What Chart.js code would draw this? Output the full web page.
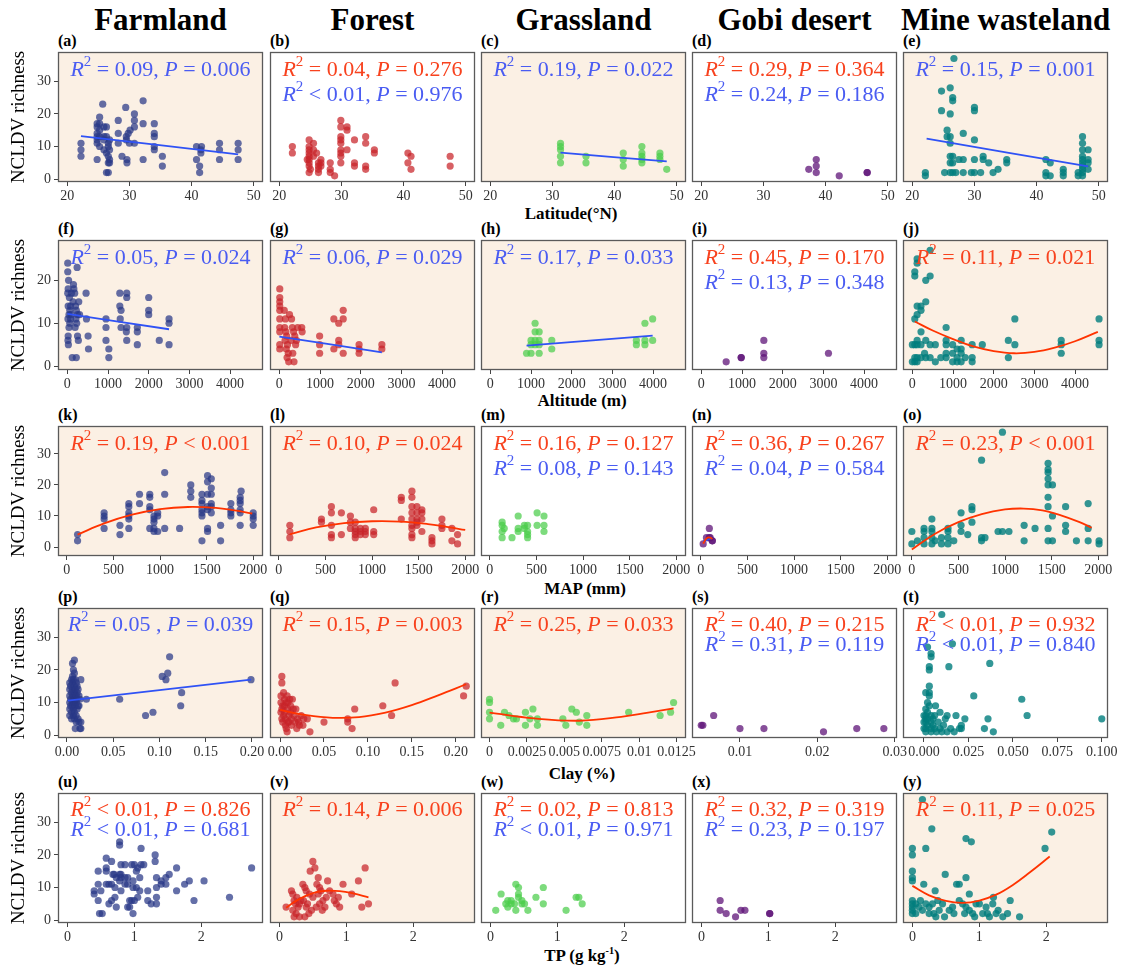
<!DOCTYPE html>
<html>
<head>
<meta charset="utf-8">
<script src="https://cdn.jsdelivr.net/npm/chart.js@4.4.0/dist/chart.umd.min.js"></script>
<style>
  body { margin: 0; background: #fff; }
  #fig { position: relative; width: 1126px; height: 971px; overflow: hidden; font-family: "Liberation Serif", "Times New Roman", serif; }
  .lbl { position: absolute; font-weight: bold; color: #000; white-space: nowrap; line-height: 1; }
  .ctr { transform: translate(-50%, -50%); }
  canvas { position: absolute; }
  sup { font-size: 60%; }
</style>
</head>
<body>
<div id="fig"></div>
<script>
// ---- data ----
const habitats = ["Farmland", "Forest", "Grassland", "Gobi desert", "Mine wasteland"];
const xTitles = ["Latitude(°N)", "Altitude (m)", "MAP (mm)", "Clay (%)", "TP (g kg<sup>-1</sup>)"];
const letters = "abcdefghijklmnopqrstuvwxy".split("");

// latitude row
const farmLat = [[22.2,11],[22.2,9],[22.2,7],[24.8,17],[24.8,16],[24.8,14],[24.8,13],[24.8,12],[24.8,11],[24.8,6],[25.2,19],[25.2,17],[25.2,15],[25.2,13],[25.2,10],[25.7,23],[25.9,16],[25.9,13],[25.9,12],[25.9,9],[26.3,16],[26.3,13],[26.3,8],[26.3,2],[26.6,11],[26.6,10],[26.6,7],[26.6,5],[26.6,2],[26.8,12],[26.8,9],[26.8,6],[26.8,5],[28.2,18],[28.2,14],[28.2,11],[28.8,7],[29.4,22],[29.5,13],[29.5,12],[29.6,6],[29.6,5],[29.8,14],[30.0,11],[30.1,15],[30.8,20],[30.8,18],[30.8,16],[30.8,11],[32.2,24],[32.2,17],[32.2,6],[34.0,17],[34.0,14],[34.0,13],[34.0,10],[34.0,9],[35.3,7],[35.3,4],[40.8,10],[40.8,6],[41.3,4],[41.3,2],[41.5,9],[41.5,8],[41.6,10],[44.5,11],[44.5,9],[44.5,6],[47.5,11],[47.5,9],[47.5,6]];
const forestLat = [[22.1,10],[22.1,8],[24.8,12],[24.8,10],[24.8,9],[24.8,8],[24.8,7],[24.8,6],[24.8,5],[24.8,4],[24.8,2],[25.5,11],[25.5,9],[25.5,7],[26.3,5],[26.3,4],[26.3,3],[26.3,2],[26.7,6],[26.7,5],[26.7,4],[28.2,5],[28.2,3],[28.2,2],[28.9,1],[29.9,18],[29.9,16],[29.9,13],[29.9,12],[29.9,11],[29.9,9],[29.9,8],[29.9,7],[29.9,5],[30.9,16],[30.9,15],[30.9,9],[32.1,12],[32.1,5],[32.1,4],[33.9,13],[33.9,11],[33.9,4],[33.9,3],[35.3,9],[35.3,8],[40.7,8],[40.7,5],[41.2,7],[41.2,3],[47.5,7],[47.5,4],[25.0,3],[26.0,8],[24.5,6]];
const grassLat = [[31.3,11],[31.3,10],[31.3,9],[31.3,7],[31.3,5],[35.4,7],[35.4,5],[41.4,8],[41.4,6],[41.4,4],[44.4,10],[44.4,8],[44.4,7],[44.4,6],[44.4,5],[47.3,8],[47.3,7],[47.3,6],[48.4,3]];
const gobiLat = [[37.3,3],[38.5,6],[38.5,4],[38.5,2],[42.2,1],[46.7,2],[46.7,2]];
const mineLat = [[22.1,2],[22.1,1],[24.7,27],[24.7,21],[26.1,28],[26.1,20],[26.5,25],[26.5,24],[26.7,37],[25.6,15],[25.6,13],[26.1,13],[26.1,11],[26.5,7],[26.5,5],[26.5,2],[26.1,5],[26.1,2],[26.1,7],[28.2,14],[28.2,6],[28.2,2],[30,22],[30,21],[30,12],[30,6],[30,2],[31.4,7],[31.4,6],[32.3,5],[33.8,3],[35.2,6],[35.2,5],[41.5,6],[41.5,2],[41.5,1],[42.2,5],[42.2,1],[44.3,3],[44.3,2],[44.3,1],[46.7,2],[46.7,1],[47.4,13],[47.4,11],[47.4,9],[47.4,7],[47.4,6],[47.4,5],[47.4,4],[47.4,3],[47.4,2],[47.4,1],[48.3,9],[48.3,6],[48.3,5],[48.3,3],[25.2,2],[27,2],[29.5,2],[31,2],[27.5,6],[33,2]];

// altitude row
const farmAlt = [[10,24],[10,22],[30,20],[20,18],[10,17],[50,16],[20,14],[60,13],[40,12],[15,11],[40,9],[20,7],[15,6],[25,5],[80,14],[90,12],[80,11],[60,10],[100,17],[150,19],[160,18],[180,17],[140,15],[200,14],[220,13],[250,12],[210,11],[230,10],[190,9],[250,7],[270,6],[120,2],[220,2],[240,23],[300,12],[280,15],[460,17],[470,11],[510,7],[520,4],[950,11],[950,9],[950,6],[1020,4],[1020,2],[1290,17],[1290,14],[1320,13],[1300,11],[1320,9],[1460,17],[1460,16],[1460,9],[1450,8],[1460,6],[1720,9],[1720,8],[1720,5],[2000,16],[2000,13],[2000,12],[2260,6],[2500,11],[2500,10],[2500,5]];
const forestAlt = [[10,18],[10,16],[10,15],[10,14],[10,13],[10,11],[10,9],[10,8],[10,5],[10,4],[120,13],[150,11],[130,9],[160,8],[180,7],[140,6],[200,5],[170,4],[220,3],[190,2],[230,1],[250,12],[300,11],[320,9],[350,8],[380,7],[290,6],[400,5],[330,3],[360,1],[450,9],[420,6],[550,9],[560,8],[990,7],[990,5],[990,3],[1340,11],[1340,4],[1460,10],[1460,6],[1460,5],[1570,13],[1570,11],[1570,3],[1960,5],[1960,4],[1960,3],[2520,5],[2520,4]];
const grassAlt = [[890,3],[1000,6],[1000,5],[1000,3],[1100,10],[1100,8],[1100,6],[1100,5],[1200,8],[1200,6],[1200,5],[1200,3],[1510,6],[1510,4],[3590,6],[3590,5],[3800,10],[3800,6],[3800,5],[3990,11],[3990,6]];
const gobiAlt = [[610,1],[980,2],[980,2],[1536,6],[1536,3],[1536,2],[3125,3]];
const mineAlt = [[60,22],[60,21],[60,11],[60,5],[60,2],[60,1],[117,25],[117,24],[117,14],[117,12],[117,6],[117,5],[117,2],[117,1],[213,14],[213,13],[213,8],[213,5],[213,2],[330,20],[330,15],[330,6],[330,2],[437,27],[437,21],[437,5],[437,2],[565,5],[565,1],[830,9],[830,6],[830,5],[830,3],[830,2],[990,5],[990,3],[990,1],[1100,4],[1100,2],[1100,1],[1200,6],[1200,4],[1200,3],[1200,1],[1470,5],[1470,2],[1470,1],[1720,5],[2360,6],[2360,2],[2520,11],[2520,5],[3660,6],[3660,5],[3660,3],[4590,11],[4590,6],[4590,5],[0,5],[0,1],[300,3],[700,2],[1300,2]];

// MAP row
const farmMap = [[115,4],[115,2],[400,11],[400,10],[400,9],[400,6],[570,7],[570,4],[665,14],[665,13],[665,11],[665,10],[665,9],[665,6],[780,17],[780,14],[890,17],[890,16],[890,13],[890,12],[890,6],[935,10],[935,9],[935,8],[935,6],[935,5],[975,11],[975,10],[975,5],[1050,24],[1050,17],[1050,6],[1210,6],[1330,20],[1330,18],[1330,16],[1450,17],[1450,15],[1450,14],[1450,12],[1450,11],[1450,10],[1450,2],[1510,23],[1510,21],[1510,17],[1510,13],[1510,12],[1510,6],[1510,5],[1550,22],[1550,19],[1550,17],[1550,14],[1550,13],[1550,11],[1650,7],[1650,2],[1760,14],[1760,12],[1760,11],[1760,10],[1860,16],[1860,15],[1860,14],[1860,12],[1860,11],[1860,7],[1870,18],[2000,11],[2000,10],[2000,9],[2000,7]];
const forestMap = [[118,7],[118,5],[118,3],[457,9],[457,8],[564,13],[564,11],[564,7],[564,4],[564,3],[671,11],[671,4],[768,10],[768,8],[768,6],[820,8],[820,6],[820,5],[820,4],[820,3],[875,6],[875,5],[875,4],[928,6],[928,5],[928,4],[1018,12],[1018,5],[1018,4],[1314,16],[1314,15],[1314,9],[1428,18],[1428,16],[1428,13],[1428,11],[1428,9],[1428,7],[1428,6],[1428,4],[1428,3],[1482,13],[1482,11],[1482,9],[1482,8],[1482,7],[1535,12],[1535,11],[1535,9],[1535,5],[1643,3],[1643,2],[1643,1],[1750,9],[1750,7],[1750,6],[1857,6],[1857,2],[1918,4],[1918,1]];
const grassMap = [[132,8],[132,7],[132,5],[132,3],[154,6],[238,3],[304,10],[304,6],[304,5],[370,7],[370,6],[405,7],[405,5],[405,4],[405,3],[507,11],[507,7],[581,10],[581,7],[581,5]];
const gobiMap = [[25,1],[60,3],[91,6],[91,3],[123,2],[123,2],[100,3]];
const mineMap = [[0,5],[0,1],[131,6],[131,5],[131,3],[131,1],[215,9],[215,6],[215,5],[215,3],[215,1],[318,3],[318,1],[388,6],[388,5],[388,3],[388,1],[528,11],[528,7],[528,5],[645,13],[645,12],[645,8],[748,28],[748,3],[748,2],[785,3],[925,5],[972,37],[972,5],[1042,5],[1205,7],[1205,2],[1322,6],[1462,27],[1462,25],[1462,24],[1462,22],[1462,20],[1462,16],[1462,13],[1462,6],[1462,2],[1509,20],[1509,10],[1509,2],[1650,13],[1650,7],[1650,5],[1766,2],[1892,14],[1892,6],[1892,2],[2009,2],[2009,1],[60,2],[250,2],[450,2],[600,4]];

// clay row
const farmClay = [[0.003,16],[0.003,14],[0.003,12],[0.003,10],[0.003,8],[0.003,6],[0.004,15],[0.004,11],[0.004,9],[0.005,13],[0.005,17],[0.005,7],[0.005,5],[0.006,22],[0.006,18],[0.006,16],[0.006,14],[0.006,12],[0.006,10],[0.006,9],[0.007,20],[0.007,17],[0.007,11],[0.007,8],[0.007,6],[0.008,23],[0.008,19],[0.008,15],[0.008,13],[0.008,12],[0.008,10],[0.008,7],[0.008,5],[0.009,17],[0.009,14],[0.009,11],[0.009,9],[0.009,2],[0.010,16],[0.010,12],[0.010,10],[0.010,6],[0.010,4],[0.011,15],[0.011,13],[0.011,11],[0.011,8],[0.012,14],[0.012,9],[0.012,5],[0.013,12],[0.013,9],[0.013,4],[0.014,11],[0.014,2],[0.015,17],[0.015,4],[0.015,2],[0.021,11],[0.057,11],[0.085,6],[0.093,7],[0.103,18],[0.107,17],[0.109,19],[0.111,24],[0.124,13],[0.123,9],[0.199,17]];
const forestClay = [[0.002,18],[0.002,16],[0.001,12],[0.001,10],[0.002,8],[0.001,7],[0.002,5],[0.003,4],[0.004,13],[0.005,11],[0.005,9],[0.005,7],[0.006,5],[0.006,3],[0.007,2],[0.008,1],[0.008,12],[0.009,10],[0.009,8],[0.010,6],[0.010,4],[0.011,11],[0.012,9],[0.012,7],[0.013,5],[0.013,3],[0.014,11],[0.015,8],[0.016,6],[0.017,4],[0.018,8],[0.019,2],[0.020,5],[0.021,4],[0.022,3],[0.024,6],[0.026,3],[0.027,5],[0.003,9],[0.004,6],[0.007,10],[0.009,4],[0.031,5],[0.034,1],[0.050,4],[0.077,5],[0.077,4],[0.082,2],[0.085,8],[0.117,9],[0.127,6],[0.131,16],[0.209,12],[0.212,15]];
const grassClay = [[0,11],[0,10],[0,7],[0,5],[0.00075,3],[0.001,7],[0.0013,6],[0.0016,5],[0.0018,5],[0.0024,7],[0.0024,3],[0.0027,5],[0.0029,8],[0.0032,5],[0.0032,3],[0.0049,5],[0.0051,3],[0.0055,8],[0.0058,7],[0.006,4],[0.0065,6],[0.0065,3],[0.0093,7],[0.0114,6],[0.0121,7],[0.0123,10]];
const gobiClay = [[0.0050,3],[0.0052,3],[0.0066,6],[0.0100,2],[0.0131,2],[0.0208,1],[0.0251,2],[0.0286,2]];
const mineClay = [[0.010,37],[0.002,27],[0.004,25],[0.004,24],[0.016,28],[0.003,21],[0.003,20],[0.014,21],[0.037,22],[0.028,12],[0.055,11],[0.058,6],[0.100,5],[0.036,5],[0.034,2],[0.039,1],[0.021,3],[0.021,2],[0.023,5],[0.0065,9],[0.009,7],[0.013,6],[0.013,1],[0.003,15],[0.003,13],[0.003,12],[0.001,13],[0.001,8],[0.001,6],[0.001,5],[0.001,4],[0.001,2],[0.001,1],[0.002,10],[0.002,7],[0.002,3],[0.004,6],[0.004,4],[0.004,2],[0.004,1],[0.005,5],[0.005,3],[0.006,2],[0.007,1],[0.008,4],[0.009,2],[0.010,1],[0.011,3],[0.012,5],[0.015,2],[0.017,1],[0.0,2],[0.0,4],[0.0,6],[0.002,5],[0.006,6],[0.003,9],[0.018,6],[0.02,2]];

// TP row
const farmTP = [[0.4,9],[0.4,8],[0.46,15],[0.46,11],[0.46,6],[0.48,2],[0.5,9],[0.52,2],[0.58,19],[0.58,16],[0.58,15],[0.58,11],[0.62,11],[0.62,5],[0.66,18],[0.66,11],[0.66,6],[0.68,14],[0.7,14],[0.71,10],[0.71,7],[0.73,13],[0.73,4],[0.78,24],[0.78,23],[0.78,14],[0.8,14],[0.78,12],[0.8,17],[0.8,13],[0.8,9],[0.86,17],[0.86,13],[0.86,11],[0.9,13],[0.9,11],[0.9,4],[0.93,6],[0.93,4],[0.96,17],[0.96,6],[0.98,12],[0.98,10],[0.98,2],[1.0,17],[1.0,6],[1.03,15],[1.03,10],[1.05,16],[1.05,7],[1.08,13],[1.08,9],[1.1,22],[1.1,17],[1.14,17],[1.2,9],[1.2,6],[1.25,5],[1.31,20],[1.31,18],[1.33,13],[1.33,10],[1.33,7],[1.33,5],[1.4,12],[1.4,11],[1.47,13],[1.47,11],[1.52,14],[1.63,16],[1.63,9],[1.75,11],[1.82,12],[1.89,6],[2.04,12],[2.42,7],[2.75,16]];
const forestTP = [[0.1,4],[0.18,9],[0.2,8],[0.22,6],[0.24,5],[0.2,3],[0.25,2],[0.3,1],[0.26,7],[0.28,4],[0.22,1],[0.35,11],[0.38,10],[0.4,9],[0.36,6],[0.42,5],[0.4,4],[0.44,2],[0.38,1],[0.5,18],[0.46,15],[0.53,16],[0.58,13],[0.56,11],[0.6,10],[0.62,9],[0.58,8],[0.65,6],[0.6,5],[0.68,4],[0.64,3],[0.7,7],[0.72,12],[0.75,9],[0.8,8],[0.82,6],[0.85,5],[0.9,4],[0.88,7],[0.95,11],[1.08,8],[1.18,12],[1.23,4],[1.28,16],[1.33,5],[0.5,7],[0.45,8],[0.32,6],[0.3,5],[0.55,4],[0.48,3]];
const grassTP = [[0.08,3],[0.16,8],[0.23,5],[0.26,6],[0.26,4],[0.31,6],[0.31,5],[0.36,5],[0.38,11],[0.38,3],[0.42,10],[0.42,8],[0.42,7],[0.47,6],[0.47,5],[0.51,5],[0.56,3],[0.68,7],[0.79,10],[0.79,5],[1.13,3],[1.28,7],[1.32,7],[1.37,5]];
const gobiTP = [[0.28,6],[0.28,3],[0.37,2],[0.51,1],[0.59,3],[0.65,3],[1.02,2],[1.02,2]];
const mineTP = [[0.15,37],[0.29,28],[0.8,25],[0.88,24],[2.08,27],[1.98,22],[0,22],[0,20],[0,15],[0,13],[0,12],[0.2,22],[0.17,11],[0.49,14],[0.66,11],[0.7,11],[0.8,13],[0.34,9],[0.85,8],[1.21,7],[1.46,6],[0,6],[0,5],[0,4],[0,3],[0,2],[0.05,5],[0.05,2],[0.1,4],[0.12,6],[0.15,3],[0.2,5],[0.25,2],[0.25,4],[0.3,5],[0.32,2],[0.35,1],[0.38,6],[0.4,3],[0.45,5],[0.48,1],[0.55,3],[0.6,4],[0.62,2],[0.75,5],[0.78,2],[0.8,4],[0.85,3],[0.9,2],[0.93,1],[1.0,5],[1.05,2],[1.1,4],[1.12,2],[1.15,1],[1.2,5],[1.25,2],[1.28,3],[1.35,1],[1.42,2],[1.6,1],[0.7,6],[0.95,5]];

// fitted lines (r = quadratic, b = linear)
const fitA = [["b", [[22.2,13.2],[47.5,7.6]]]];
const fitC = [["b", [[31.3,8.1],[48.4,5.4]]]];
const fitE = [["b", [[22.3,12.4],[48.3,3.9]]]];
const fitF = [["b", [[0,12.2],[2500,8.6]]]];
const fitG = [["b", [[0,6.9],[2520,3.2]]]];
const fitH = [["b", [[890,4.8],[3990,7.1]]]];
const fitJ = [["r", [[60,10.4],[500,8.3],[1000,6.3],[1500,4.6],[2000,3.5],[2500,3.0],[3000,3.3],[3500,4.3],[4000,5.8],[4560,8.0]]]];
const fitK = [["r", [[115,4],[400,7.6],[700,10.4],[1000,12.2],[1300,12.9],[1600,12.6],[1800,11.8],[1990,10.8]]]];
const fitL = [["r", [[118,4.1],[400,6.3],[700,7.7],[1000,8.3],[1300,8.2],[1600,7.4],[1800,6.5],[2000,5.5]]]];
const fitN = [["r", [[25,1.1],[50,2.4],[80,3.1],[110,2.9],[123,2.5]]], ["b", [[25,1.8],[123,2.9]]]];
const fitO = [["r", [[0,-0.8],[250,4.3],[500,8.0],[750,10.6],[1000,12.1],[1200,12.4],[1400,11.8],[1600,10.2],[1800,8.0],[1930,6.2]]]];
const fitP = [["b", [[0.001,10.6],[0.199,17]]]];
const fitQ = [["r", [[0,7.7],[0.03,6.1],[0.06,5.3],[0.09,5.5],[0.12,6.9],[0.15,9.2],[0.18,12.2],[0.212,15.6]]]];
const fitR = [["r", [[0,6.9],[0.003,5.1],[0.006,4.4],[0.0088,5.6],[0.0105,6.8],[0.0123,8.2]]]];
const fitV = [["r", [[0.1,3.8],[0.3,6.5],[0.5,8.3],[0.7,9.0],[0.9,8.9],[1.1,8.2],[1.33,7.0]]]];
const fitY = [["r", [[0,10.5],[0.25,7.6],[0.5,5.9],[0.75,5.3],[1.0,6.0],[1.25,7.8],[1.5,10.8],[1.75,14.6],[2.05,19.5]]]];

// R2 / P annotations per panel (colour, R2 part, P part)
const stats = [
  [["b","= 0.09","= 0.006"]],
  [["r","= 0.04","= 0.276"],["b","< 0.01","= 0.976"]],
  [["b","= 0.19","= 0.022"]],
  [["r","= 0.29","= 0.364"],["b","= 0.24","= 0.186"]],
  [["b","= 0.15","= 0.001"]],
  [["b","= 0.05","= 0.024"]],
  [["b","= 0.06","= 0.029"]],
  [["b","= 0.17","= 0.033"]],
  [["r","= 0.45","= 0.170"],["b","= 0.13","= 0.348"]],
  [["r","= 0.11","= 0.021"]],
  [["r","= 0.19","< 0.001"]],
  [["r","= 0.10","= 0.024"]],
  [["r","= 0.16","= 0.127"],["b","= 0.08","= 0.143"]],
  [["r","= 0.36","= 0.267"],["b","= 0.04","= 0.584"]],
  [["r","= 0.23","< 0.001"]],
  [["b","= 0.05 ","= 0.039"]],
  [["r","= 0.15","= 0.003"]],
  [["r","= 0.25","= 0.033"]],
  [["r","= 0.40","= 0.215"],["b","= 0.31","= 0.119"]],
  [["r","< 0.01","= 0.932"],["b","< 0.01","= 0.840"]],
  [["r","< 0.01","= 0.826"],["b","< 0.01","= 0.681"]],
  [["r","= 0.14","= 0.006"]],
  [["r","= 0.02","= 0.813"],["b","< 0.01","= 0.971"]],
  [["r","= 0.32","= 0.319"],["b","= 0.23","= 0.197"]],
  [["r","= 0.11","= 0.025"]]
];
const shaded = [1,0,1,0,1, 1,1,1,0,1, 1,1,0,0,1, 1,1,1,0,0, 0,1,0,0,1];

// axis ticks
const latTicks = [20, 30, 40, 50];
const altTicks = [0, 1000, 2000, 3000, 4000];
const mapTicks = [0, 500, 1000, 1500, 2000];
const clayTicksWide = [0, 0.05, 0.10, 0.15, 0.20];
const clayLabelsWide = ["0.00", "0.05", "0.10", "0.15", "0.20"];
const clayTicksGrass = [0, 0.0025, 0.005, 0.0075, 0.01, 0.0125];
const clayLabelsGrass = ["0", "0.0025", "0.005", "0.0075", "0.01", "0.0125"];
const clayTicksGobi = [0.01, 0.02, 0.03];
const clayTicksMine = [0, 0.025, 0.05, 0.075, 0.1];
const clayLabelsMine = ["0.000", "0.025", "0.050", "0.075", "0.100"];
const tpTicks = [0, 1, 2];
const yTicksTall = [0, 10, 20, 30];
const yTicksShort = [0, 10, 20];

const points = [
  farmLat, forestLat, grassLat, gobiLat, mineLat,
  farmAlt, forestAlt, grassAlt, gobiAlt, mineAlt,
  farmMap, forestMap, grassMap, gobiMap, mineMap,
  farmClay, forestClay, grassClay, gobiClay, mineClay,
  farmTP, forestTP, grassTP, gobiTP, mineTP
];
const fits = [
  fitA, [], fitC, [], fitE,
  fitF, fitG, fitH, [], fitJ,
  fitK, fitL, [], fitN, fitO,
  fitP, fitQ, fitR, [], [],
  [], fitV, [], [], fitY
];

// ---- layout & style ----
const colLeft = [58, 270, 481, 692, 903];
const rowTop = [52, 240, 426, 608, 793];
const boxW = 205, boxH = 130;
const xRange = [
  [[18.5,51.5],[18.5,51.5],[18.5,51.5],[18.5,51.5],[18.5,51.5]],
  [[-230,4810],[-230,4810],[-230,4810],[-230,4810],[-230,4810]],
  [[-95,2105],[-95,2105],[-95,2105],[-95,2105],[-95,2105]],
  [[-0.0097,0.212],[-0.0115,0.222],[-0.00057,0.01313],[0.0038,0.0303],[-0.0118,0.1035]],
  [[-0.14,2.92],[-0.14,2.92],[-0.14,2.92],[-0.14,2.92],[-0.14,2.92]]
];
const yRange = [[-0.9,39], [-0.9,29.4], [-2.9,39], [-0.9,39], [-0.9,39]];
const pointColors = ["rgba(40,55,135,0.72)", "rgba(200,35,40,0.72)", "rgba(75,205,75,0.72)", "rgba(95,20,120,0.75)", "rgba(0,125,125,0.8)"];
const lineColor = { r: "#ff3300", b: "#2f52f5" };
const textColor = { r: "#f8421e", b: "#4a5cf2" };
const serif = '"Liberation Serif", "Times New Roman", serif';

function xTicksFor(row, col) {
  if (row === 0) return [latTicks, latTicks.map(String)];
  if (row === 1) return [altTicks, altTicks.map(String)];
  if (row === 2) return [mapTicks, mapTicks.map(String)];
  if (row === 4) return [tpTicks, tpTicks.map(String)];
  if (col <= 1) return [clayTicksWide, clayLabelsWide];
  if (col === 2) return [clayTicksGrass, clayLabelsGrass];
  if (col === 3) return [clayTicksGobi, clayTicksGobi.map(String)];
  return [clayTicksMine, clayLabelsMine];
}

const fig = document.getElementById("fig");
function addLabel(html, x, y, size, center) {
  const d = document.createElement("div");
  d.className = "lbl" + (center ? " ctr" : "");
  d.style.left = x + "px";
  d.style.top = y + "px";
  d.style.fontSize = size + "px";
  d.innerHTML = html;
  fig.appendChild(d);
}

function drawStats(ctx, area, lines, offs) {
  const cx = (area.left + area.right) / 2;
  lines.forEach((ln, i) => {
    const segs = [
      { t: "R", f: "italic 22px " + serif, dy: 0 },
      { t: "2", f: "15px " + serif, dy: -8 },
      { t: " " + ln[1] + ", ", f: "22px " + serif, dy: 0 },
      { t: "P", f: "italic 22px " + serif, dy: 0 },
      { t: " " + ln[2], f: "22px " + serif, dy: 0 }
    ];
    let total = 0;
    segs.forEach(s => { ctx.font = s.f; s.w = ctx.measureText(s.t).width; total += s.w; });
    let x = cx - total / 2;
    const y = area.top + offs[i];
    ctx.fillStyle = textColor[ln[0]];
    ctx.textBaseline = "middle";
    ctx.textAlign = "left";
    segs.forEach(s => { ctx.font = s.f; ctx.fillText(s.t, x, y + s.dy); x += s.w; });
  });
}

function addPanel(k) {
  const row = Math.floor(k / 5), col = k % 5;
  const padL = col === 0 ? 0 : 25, yW = col === 0 ? 58 : 0, padR = 25, padT = 8, xH = 26, padB = 2;
  const canvas = document.createElement("canvas");
  const w = padL + yW + boxW + padR, h = padT + boxH + xH + padB;
  canvas.width = w; canvas.height = h;
  canvas.style.left = (colLeft[col] - yW - padL) + "px";
  canvas.style.top = (rowTop[row] - padT) + "px";
  canvas.style.width = w + "px"; canvas.style.height = h + "px";
  fig.appendChild(canvas);

  const [xt, xl] = xTicksFor(row, col);
  const yt = row === 1 ? yTicksShort : yTicksTall;
  const datasets = [{
    data: points[k].map(p => ({ x: p[0], y: p[1] })),
    backgroundColor: pointColors[col], pointRadius: 3.6, pointHoverRadius: 3.6, borderWidth: 0, order: 2
  }];
  fits[k].forEach(f => datasets.push({
    type: "line", data: f[1].map(p => ({ x: p[0], y: p[1] })),
    borderColor: lineColor[f[0]], borderWidth: 1.8, pointRadius: 0, tension: 0.4, fill: false, order: 1
  }));
  const offs = row < 3 ? [18, 43] : [17, 37];

  const deco = {
    id: "deco" + k,
    beforeDatasetsDraw(chart) {
      const a = chart.chartArea, c = chart.ctx;
      c.save(); c.fillStyle = shaded[k] ? "#fbf0e4" : "#ffffff";
      c.fillRect(a.left, a.top, a.right - a.left, a.bottom - a.top); c.restore();
    },
    afterDatasetsDraw(chart) {
      const c = chart.ctx; c.save(); drawStats(c, chart.chartArea, stats[k], offs); c.restore();
    },
    afterDraw(chart) {
      const a = chart.chartArea, c = chart.ctx;
      c.save(); c.strokeStyle = "#5a5a5a"; c.lineWidth = 1.3;
      c.strokeRect(a.left + 0.5, a.top + 0.5, a.right - a.left - 1, a.bottom - a.top - 1); c.restore();
    }
  };

  new Chart(canvas, {
    type: "scatter",
    data: { datasets },
    options: {
      responsive: false, animation: false, events: [],
      layout: { padding: { left: padL, right: padR, top: padT, bottom: padB } },
      plugins: { legend: { display: false }, tooltip: { enabled: false } },
      scales: {
        x: {
          type: "linear", min: xRange[row][col][0], max: xRange[row][col][1],
          afterBuildTicks: s => { s.ticks = xt.map(v => ({ value: v })); },
          afterFit: s => { s.height = xH; s.paddingLeft = 0; s.paddingRight = 0; },
          ticks: { callback: (v, i) => xl[i], autoSkip: false, maxRotation: 0, minRotation: 0, padding: 2,
                   color: "#333", font: { family: serif, size: 14 } },
          grid: { drawOnChartArea: false, drawTicks: true, tickLength: 4, color: "#444" },
          border: { display: false }
        },
        y: {
          display: col === 0, min: yRange[row][0], max: yRange[row][1],
          afterBuildTicks: s => { s.ticks = yt.map(v => ({ value: v })); },
          afterFit: s => { s.width = yW; s.paddingTop = 0; s.paddingBottom = 0; },
          ticks: { autoSkip: false, padding: 3, color: "#333", font: { family: serif, size: 14 } },
          grid: { drawOnChartArea: false, drawTicks: true, tickLength: 4, color: "#444" },
          border: { display: false },
          title: { display: true, text: "NCLDV richness", color: "#000", font: { family: serif, size: 19 }, padding: { top: 8, bottom: 0 } }
        }
      }
    },
    plugins: [deco]
  });
}

// titles and labels
habitats.forEach((t, i) => addLabel(t, colLeft[i] + boxW / 2, 19, 31, true));
for (let k = 0; k < 25; k++) {
  addLabel("(" + letters[k] + ")", colLeft[k % 5], rowTop[Math.floor(k / 5)] - 19, 16, false);
}
const xTitlePos = [[571, 213], [582, 400], [585, 588], [582, 773], [582, 955]];
xTitles.forEach((t, i) => addLabel(t, xTitlePos[i][0], xTitlePos[i][1], 17, true));

for (let k = 0; k < 25; k++) addPanel(k);
</script>
</body>
</html>
